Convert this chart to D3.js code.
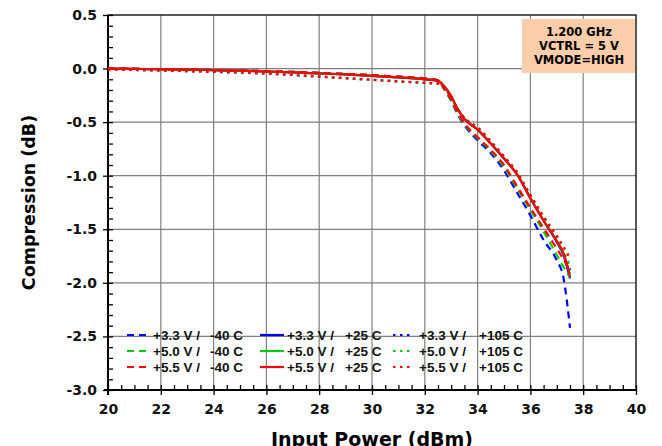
<!DOCTYPE html>
<html><head><meta charset="utf-8">
<script src="https://cdn.jsdelivr.net/npm/d3@7"></script>
<style>
html,body{margin:0;padding:0;background:#fff;}
svg{display:block;font-family:"DejaVu Sans",Verdana,sans-serif;}
</style></head>
<body><svg id="c" width="662" height="446"></svg>
<script>
// ---------- data ----------
const inputPower = [20,21,22,23,24,25,26,27,28,29,30,31,32,32.5,32.75,33,33.25,33.5,34,34.5,35,35.5,36,36.5,37,37.25,37.5];

const v33_m40 = [0,-0.003,-0.006,-0.009,-0.013,-0.018,-0.024,-0.031,-0.04,-0.05,-0.062,-0.076,-0.092,-0.11,-0.2,-0.3,-0.43,-0.53,-0.67,-0.79,-0.95,-1.16,-1.37,-1.6,-1.79,-1.95,-2.42];
const v50_m40 = [0,-0.003,-0.006,-0.009,-0.013,-0.018,-0.024,-0.031,-0.04,-0.05,-0.062,-0.076,-0.092,-0.11,-0.2,-0.3,-0.42,-0.52,-0.65,-0.77,-0.92,-1.12,-1.32,-1.52,-1.74,-1.85,-1.95];
const v55_m40 = [0,-0.003,-0.006,-0.009,-0.013,-0.018,-0.024,-0.031,-0.04,-0.05,-0.062,-0.076,-0.092,-0.11,-0.19,-0.29,-0.41,-0.51,-0.64,-0.76,-0.9,-1.1,-1.3,-1.49,-1.68,-1.78,-1.88];

const v33_p25 = [0,-0.003,-0.006,-0.01,-0.015,-0.02,-0.027,-0.035,-0.045,-0.055,-0.068,-0.083,-0.1,-0.115,-0.17,-0.26,-0.38,-0.47,-0.57,-0.7,-0.84,-0.99,-1.21,-1.42,-1.62,-1.74,-1.96];
const v50_p25 = [0,-0.003,-0.006,-0.01,-0.015,-0.02,-0.027,-0.035,-0.045,-0.055,-0.068,-0.083,-0.1,-0.115,-0.17,-0.26,-0.38,-0.47,-0.57,-0.7,-0.84,-0.99,-1.21,-1.42,-1.61,-1.73,-1.92];
const v55_p25 = [0,-0.003,-0.006,-0.01,-0.015,-0.02,-0.027,-0.035,-0.045,-0.055,-0.068,-0.083,-0.1,-0.115,-0.17,-0.26,-0.38,-0.47,-0.57,-0.7,-0.84,-0.99,-1.21,-1.42,-1.61,-1.72,-1.94];

const v33_p105 = [-0.01,-0.013,-0.018,-0.024,-0.03,-0.038,-0.047,-0.06,-0.075,-0.09,-0.105,-0.12,-0.133,-0.14,-0.18,-0.27,-0.38,-0.46,-0.55,-0.68,-0.82,-0.98,-1.19,-1.4,-1.6,-1.72,-1.88];
const v50_p105 = [-0.01,-0.013,-0.018,-0.024,-0.03,-0.038,-0.047,-0.06,-0.075,-0.09,-0.105,-0.12,-0.133,-0.14,-0.18,-0.27,-0.38,-0.46,-0.55,-0.68,-0.82,-0.97,-1.18,-1.39,-1.58,-1.7,-1.84];
const v55_p105 = [-0.01,-0.013,-0.018,-0.024,-0.03,-0.038,-0.047,-0.06,-0.075,-0.09,-0.105,-0.12,-0.133,-0.14,-0.18,-0.27,-0.38,-0.46,-0.55,-0.68,-0.82,-0.97,-1.18,-1.38,-1.56,-1.66,-1.77];

const seriesLabelsV = ["+3.3 V /","+5.0 V /","+5.5 V /"];
const seriesLabelsT = ["-40 C","+25 C","+105 C"];
const xTickValues = [20,22,24,26,28,30,32,34,36,38,40];
const yTickValues = [0.5,0,-0.5,-1,-1.5,-2,-2.5,-3];
const annotation = ["1.200 GHz","VCTRL = 5 V","VMODE=HIGH"];
const xTitle = "Input Power (dBm)";
const yTitle = "Compression (dB)";

// ---------- styles ----------
const colors = ["#0000ff","#00cc00","#ff0000"];
const dashes = ["7,5", null, "2.5,4.5"];

const series = [
  {v:0,t:0,vals:v33_m40},{v:1,t:0,vals:v50_m40},{v:2,t:0,vals:v55_m40},
  {v:0,t:1,vals:v33_p25},{v:1,t:1,vals:v50_p25},{v:2,t:1,vals:v55_p25},
  {v:0,t:2,vals:v33_p105},{v:1,t:2,vals:v50_p105},{v:2,t:2,vals:v55_p105}
];

const svg = d3.select("#c");
const L=108,R=636,T=15,B=390;
const x = d3.scaleLinear().domain([20,40]).range([L,R]);
const y = d3.scaleLinear().domain([-3,0.5]).range([B,T]);

// grid
const grid = svg.append("g").attr("stroke","#808080").attr("stroke-width",1.2);
grid.selectAll("line.v").data(xTickValues.slice(1,-1)).join("line")
  .attr("x1",d=>x(d)).attr("x2",d=>x(d)).attr("y1",T).attr("y2",B);
grid.selectAll("line.h").data(yTickValues.slice(1,-1)).join("line")
  .attr("y1",d=>y(d)).attr("y2",d=>y(d)).attr("x1",L).attr("x2",R);

// frame
svg.append("rect").attr("x",L).attr("y",T).attr("width",R-L).attr("height",B-T)
  .attr("fill","none").attr("stroke","#222").attr("stroke-width",1.5);

// annotation box
svg.append("rect").attr("x",522).attr("y",19).attr("width",113).attr("height",54).attr("fill","#fbcda9");
svg.append("g").selectAll("text").data(annotation).join("text")
  .attr("x",579).attr("y",(d,i)=>[36,50,64][i]).attr("text-anchor","middle")
  .attr("font-size",11.5).attr("font-weight","bold").attr("fill","#000").text(d=>d);

// axes
const fmt = d => d.toFixed(1);
const xAxis = svg.append("g").attr("transform",`translate(0,${B})`)
  .call(d3.axisBottom(x).tickValues(xTickValues).tickSize(5).tickPadding(9).tickFormat(d3.format("d")));
const xMinor = svg.append("g").attr("transform",`translate(0,${B})`)
  .call(d3.axisBottom(x).tickValues(d3.range(20.5,40,0.5).filter(d=>d%2!==0)).tickSize(-5).tickFormat(""));
const yAxis = svg.append("g").attr("transform",`translate(${L},0)`)
  .call(d3.axisLeft(y).tickValues(yTickValues).tickSize(5).tickPadding(6).tickFormat(fmt));
const yMinor = svg.append("g").attr("transform",`translate(${L},0)`)
  .call(d3.axisLeft(y).tickValues(d3.range(-29,5,1).map(d=>d/10).filter(d=>Math.abs(Math.round(d*10))%5!==0)).tickSize(-5).tickFormat(""));
xAxis.selectAll(".tick line").attr("y1",-5);
yAxis.selectAll(".tick line").attr("x1",5);
[xAxis,xMinor,yAxis,yMinor].forEach(g=>{
  g.selectAll(".domain").attr("stroke","#000").attr("stroke-width",2);
  g.selectAll(".tick line").attr("stroke","#000").attr("stroke-width",1.3);
  g.selectAll("text").attr("font-family","DejaVu Sans, sans-serif").attr("font-weight","bold").attr("font-size",14).attr("fill","#111");
});
xMinor.select(".domain").remove(); yMinor.select(".domain").remove();
xAxis.select(".domain").attr("d",`M${L-4},0H${R}`);
yAxis.select(".domain").attr("d",`M0,${T}V${B+5}`);

// lines
const line = d3.line().x((d,i)=>x(inputPower[i])).y(d=>y(d)).curve(d3.curveMonotoneX);
const order = [0,3,6,1,4,7,2,5,8];
svg.append("g").selectAll("path").data(order.map(i=>series[i])).join("path")
  .attr("d",d=>line(d.vals)).attr("fill","none")
  .attr("stroke",d=>colors[d.v]).attr("stroke-width",2.2)
  .attr("stroke-dasharray",d=>dashes[d.t]);

// legend
const colLine = [[127,151],[260,284],[393,414]];
const colText1 = [153,287,419];
const colText2 = [210,345,479];
const rowY = [335,351,367];
const lg = svg.append("g").attr("font-family","'Liberation Sans', Arial, sans-serif").attr("font-size",13.5).attr("font-weight","bold").attr("fill","#111");
series.forEach(s=>{
  const yy=rowY[s.v];
  lg.append("line").attr("x1",colLine[s.t][0]).attr("x2",colLine[s.t][1]).attr("y1",yy).attr("y2",yy)
    .attr("stroke",colors[s.v]).attr("stroke-width",2.2).attr("stroke-dasharray",dashes[s.t]);
  lg.append("text").attr("x",colText1[s.t]).attr("y",yy+5).text(seriesLabelsV[s.v]);
  lg.append("text").attr("x",colText2[s.t]).attr("y",yy+5).text(seriesLabelsT[s.t]);
});

// titles
svg.append("text").attr("x",(L+R)/2).attr("y",446).attr("text-anchor","middle")
  .attr("font-size",19).attr("font-weight","bold").text(xTitle);
svg.append("text").attr("transform",`translate(35,${(T+B)/2}) rotate(-90)`).attr("text-anchor","middle")
  .attr("font-size",17.5).attr("font-weight","bold").text(yTitle);
</script></body></html>
